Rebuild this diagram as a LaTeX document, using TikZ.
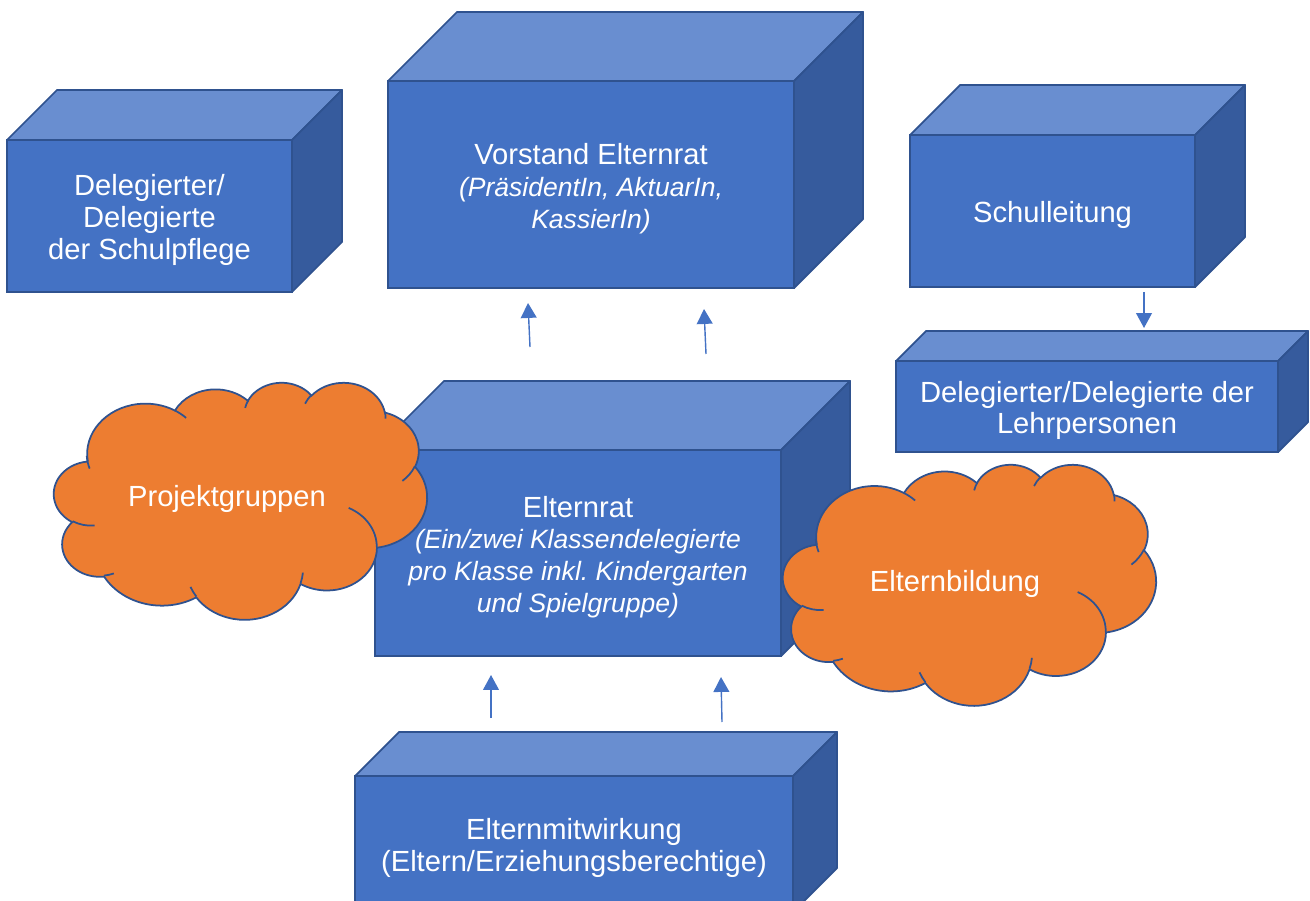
\documentclass[tikz,border=0pt]{standalone}
\usepackage{fontspec}
\setmainfont{Liberation Sans}
\usetikzlibrary{arrows.meta}

\definecolor{vorne}{HTML}{4472C4}
\definecolor{oben}{HTML}{698ED0}
\definecolor{seite}{HTML}{365B9D}
\definecolor{rand}{HTML}{2F528F}
\definecolor{wolkenorange}{HTML}{ED7D31}

\newcommand{\kursiv}[1]{{\fontsize{15.1}{18.1}\selectfont\itshape #1}}

\tikzset{pptarc/.style n args={4}{x radius=#1, y radius=#2,
    start angle={atan2(#1*sin(#3), #2*cos(#3))},
    delta angle={mod(atan2(#1*sin(#3+#4), #2*cos(#3+#4)) - atan2(#1*sin(#3), #2*cos(#3)) + 720, 360)}}}

\newcommand{\quader}[7]{%
  \node[vorderseite, minimum width=#4*0.02cm, minimum height=#5*0.02cm] (#1) at (#2,#3) {};
  \draw[oberseite] (#1.north west) -- ++(#6,-#6) -- ([shift={(#6,-#6)}]#1.north east) -- (#1.north east) -- cycle;
  \draw[seitenflaeche] (#1.north east) -- ++(#6,-#6) -- ([shift={(#6,-#6)}]#1.south east) -- (#1.south east) -- cycle;
  \node[beschriftung] (#1text) at ([yshift=-2.3pt]#1.center) {#7};}

\newcommand{\wolke}[4]{%
  \begin{scope}[shift={(#1,#2)}, xscale=#3/432, yscale=#4/432]
    \draw[wolkenlinie, fill=wolkenorange] (39,143.7)
      foreach \rx/\ry/\st/\sw in {67.53/91.90/-190.49/123.78, 53.33/72.67/-144.10/89.95,
        43.65/59.45/-145.81/99.72, 48.57/65.95/-130.99/117.24, 53.33/72.73/-78.71/109.03,
        67.75/92.20/-46.27/130.27, 57.85/78.67/0.63/114.03, 67.52/92.15/22.45/115.17,
        77.20/105.43/66.24/75.71, 43.60/59.18/-274.94/146.74, 43.45/59.45/-246.83/152.52}
      {arc[pptarc={\rx}{\ry}{\st}{\sw}]} -- cycle;
    \draw[wolkenlinie]
      foreach \px/\py/\rx/\ry/\st/\sw in {46.93/261.77/43.45/59.45/86.74/26.43,
        69.28/348.99/43.60/59.18/73.61/11.45, 164.78/390.90/67.52/92.15/137.62/14.08,
        288.27/347.51/67.52/92.15/6.45/16.00, 341.29/229.54/57.85/78.67/-70.29/70.92,
        417.98/153.54/53.33/72.73/30.32/27.75, 383.24/54.26/48.57/65.95/-13.74/14.86,
        290.78/39.52/48.57/65.95/-149.18/18.20, 221.41/47.20/43.65/59.45/-163.49/17.69,
        140.00/51.92/67.53/91.90/-66.71/12.32, 41.27/157.89/67.53/91.90/155.64/19.55}
      {(\px,\py) arc[pptarc={\rx}{\ry}{\st}{\sw}]};
  \end{scope}}

\begin{document}
\begin{tikzpicture}[x=0.02cm, y=-0.02cm,
    vorderseite/.style={draw=rand, fill=vorne, line width=1pt, inner sep=0pt, outer sep=0pt},
    beschriftung/.style={text=white, align=center, inner sep=0pt,
      font=\fontsize{16.6}{18.1}\selectfont\frenchspacing},
    oberseite/.style={draw=rand, fill=oben, line width=1pt, line join=round},
    seitenflaeche/.style={draw=rand, fill=seite, line width=1pt, line join=round},
    wolkenlinie/.style={draw=rand, line width=1pt},
    wolkentext/.style={text=white, font=\fontsize{16.6}{18.1}\selectfont},
    pfeil/.style={draw=vorne, line width=0.8pt, -{Triangle[width=9pt,length=8.5pt]}}]
  \useasboundingbox (0,0) rectangle (1310,901);
  \clip (0,0) rectangle (1310,901);

  \quader{schulpflege}{149.5}{216}{285}{152}{50}{Delegierter/\\Delegierte\\der Schulpflege}
  \quader{vorstand}{591}{184.5}{406}{207}{69}{Vorstand Elternrat\\\kursiv{(PräsidentIn, AktuarIn,}\\\kursiv{KassierIn)}}
  \quader{schulleitung}{1052.5}{211}{285}{152}{50}{Schulleitung}
  \quader{lehrpersonen}{1087}{406.5}{382}{91}{30}{Delegierter/Delegierte der\\Lehrpersonen}
  \quader{elternrat}{578}{553}{406}{206}{69}{Elternrat\\\kursiv{(Ein/zwei Klassendelegierte}\\\kursiv{pro Klasse inkl. Kindergarten}\\\kursiv{und Spielgruppe)}}
  \quader{mitwirkung}{574}{844}{438}{136}{44}{Elternmitwirkung\\(Eltern/Erziehungsberechtige)}

  \coordinate (er1) at (530,347);
  \coordinate (vs1) at (528,303);
  \coordinate (er2) at (706,354);
  \coordinate (vs2) at (704,309);
  \coordinate (em1) at (491,718);
  \coordinate (el1) at (491,675);
  \coordinate (em2) at (722,722);
  \coordinate (el2) at (721,677);
  \coordinate (sl) at (1144,292);
  \coordinate (lp) at (1144,328);
  \draw[pfeil] (er1) -- (vs1);
  \draw[pfeil] (er2) -- (vs2);
  \draw[pfeil] (em1) -- (el1);
  \draw[pfeil] (em2) -- (el2);
  \draw[pfeil] (sl) -- (lp);

  \wolke{54}{382}{373}{237}
  \node[wolkentext] (projekt) at (227,499) {Projektgruppen};
  \wolke{783}{464}{373}{241}
  \node[wolkentext] (bildung) at (955,584) {Elternbildung};
\end{tikzpicture}
\end{document}
